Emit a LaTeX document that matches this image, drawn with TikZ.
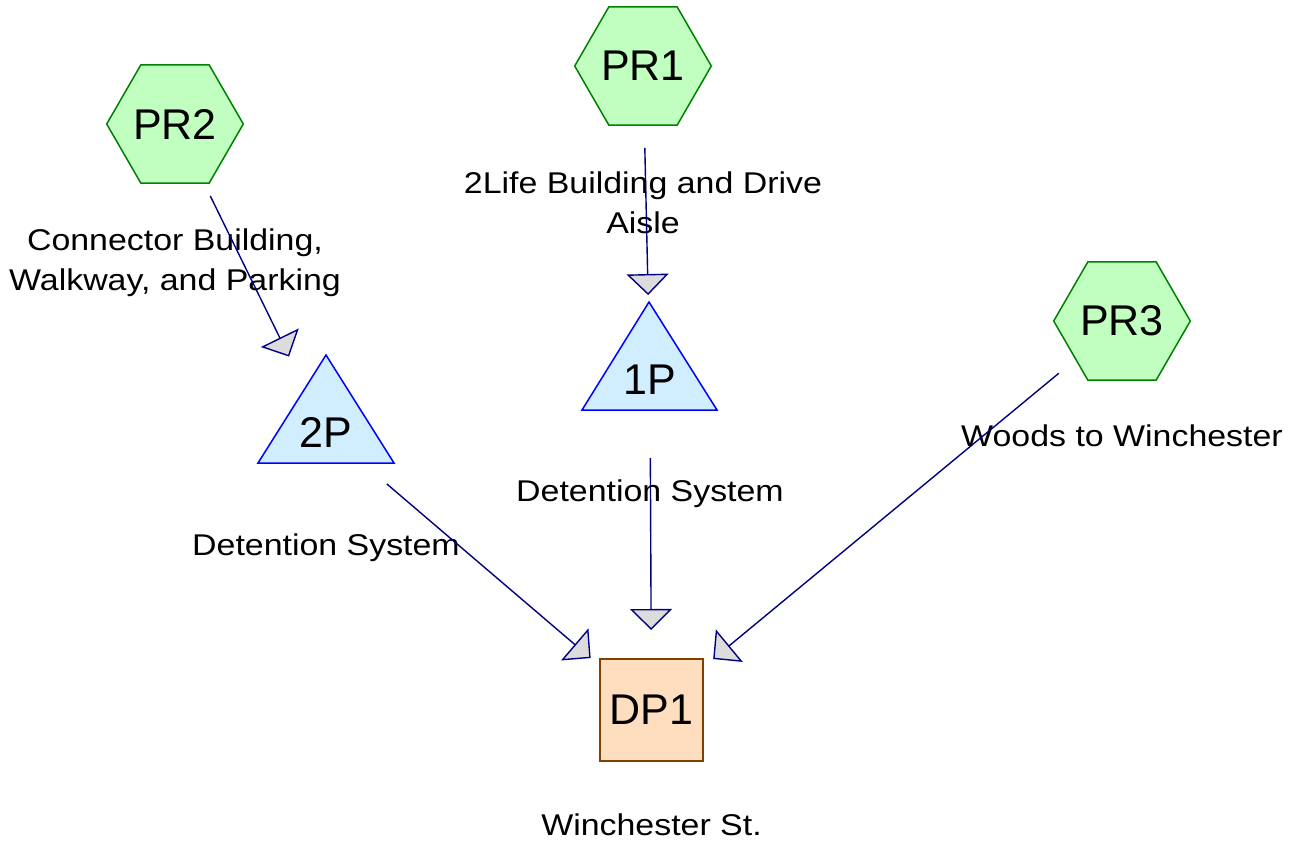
\documentclass[tikz,border=0pt]{standalone}
\usepackage{fontspec}
\setmainfont{Liberation Sans}
\newfontfamily\tagfont[FakeStretch=1.13]{Liberation Sans}
\usetikzlibrary{arrows.meta,shapes.geometric,positioning}

\definecolor{hexfill}{RGB}{192,255,192}
\definecolor{hexline}{RGB}{0,128,0}
\definecolor{tankfill}{RGB}{208,238,255}
\definecolor{tankline}{RGB}{0,0,255}
\definecolor{outfill}{RGB}{255,222,192}
\definecolor{outline}{RGB}{128,64,0}
\definecolor{flowline}{RGB}{0,0,128}
\definecolor{headfill}{RGB}{220,220,220}

\begin{document}
\begin{tikzpicture}[x=1pt,y=-1pt,
  area/.style={regular polygon,regular polygon sides=6,minimum size=135pt,inner sep=0pt,
    draw=hexline,fill=hexfill,line width=1.5pt,font=\fontsize{43}{43}\selectfont},
  tank/.style={draw=tankline,fill=tankfill,line width=1.5pt,line join=miter},
  outlet/.style={rectangle,minimum width=103pt,minimum height=102pt,inner sep=0pt,
    draw=outline,fill=outfill,line width=1.5pt,font=\fontsize{43}{43}\selectfont},
  tag/.style={inner sep=0pt,align=center,font=\tagfont\fontsize{30}{40}\selectfont},
  flow/.style={draw=flowline,line width=1.4pt,shorten <=80pt,shorten >=80pt,
    -{Triangle[width=42pt,length=21pt,fill=headfill,line join=miter]}}]

  \useasboundingbox (0,0) rectangle (1296,844);

  % subcatchments
  \node[area] (pr2) at (175,124) {PR2};
  \node[area] (pr1) at (643,66) {PR1};
  \node[area] (pr3) at (1122,321) {PR3};

  % ponds
  \draw[tank] (326,355) -- (394,463) -- (258,463) -- cycle;
  \node[font=\fontsize{43}{43}\selectfont,inner sep=0pt] (p2) at (326,432) {2P};
  \draw[tank] (649,302) -- (717,410) -- (582,410) -- cycle;
  \node[font=\fontsize{43}{43}\selectfont,inner sep=0pt] (p1) at (650,380) {1P};

  % design point
  \node[outlet] (dp1) at (651.5,710) {DP1};

  % labels
  \node[tag,below=105pt of pr2.center] {Connector Building,\\Walkway, and Parking};
  \node[tag,below=106pt of pr1.center] {2Life Building and Drive\\Aisle};
  \node[tag,below=104pt of pr3.center] {Woods to Winchester};
  \node[tag,below=102pt of p2.center] {Detention System};
  \node[tag,below=100pt of p1.center] {Detention System};
  \node[tag,below=104pt of dp1.center] {Winchester St.};

  % links
  \draw[flow,shorten >=84pt] (pr2.center) -- (p2.center);
  \draw[flow,shorten <=82pt,shorten >=85pt] (pr1.center) -- (p1.center);
  \draw[flow] (p2.center) -- (dp1.center);
  \draw[flow,shorten <=78pt] (p1.center) -- (dp1.center);
  \draw[flow,shorten <=82pt] (pr3.center) -- (dp1.center);

\end{tikzpicture}
\end{document}
